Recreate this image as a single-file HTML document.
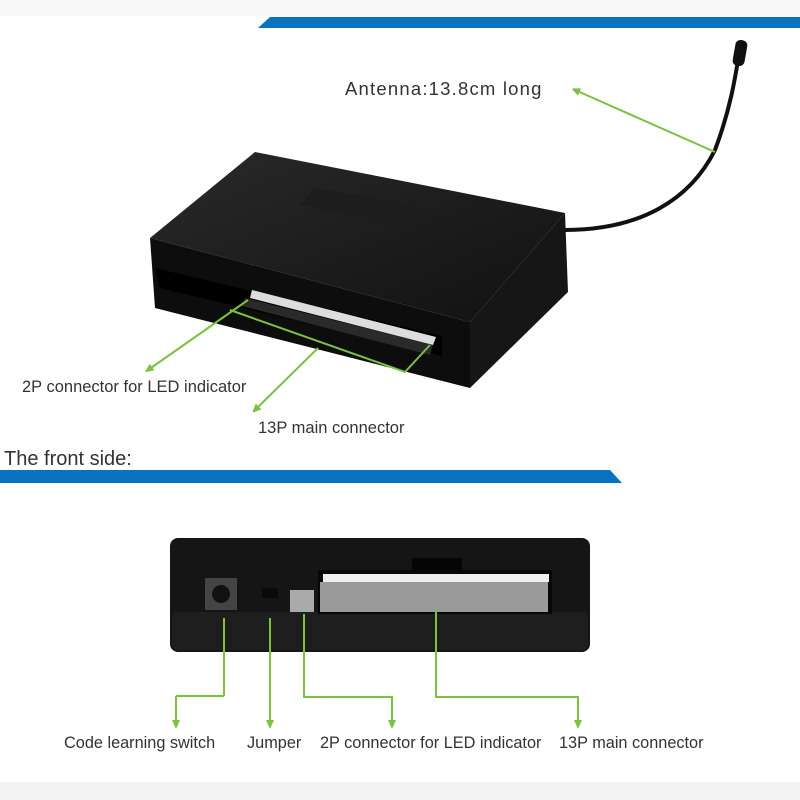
<!DOCTYPE html>
<html><head><style>
body{margin:0;background:#fff}
svg{display:block}
text{font-family:"Liberation Sans",sans-serif;fill:#333}
</style></head><body>
<svg width="800" height="800" viewBox="0 0 800 800">
<defs>
<marker id="a" markerWidth="8" markerHeight="8" refX="5" refY="4" orient="auto" markerUnits="userSpaceOnUse"><path d="M0,0 L9,4 L0,8 Z" fill="#7bc142"/></marker>
<linearGradient id="tg" x1="0" y1="0" x2="1" y2="1"><stop offset="0" stop-color="#2a2a2a"/><stop offset="1" stop-color="#111"/></linearGradient>
</defs>
<rect x="0" y="0" width="800" height="16" fill="#f8f8f8"/>
<polygon points="270,17 800,17 800,28 258,28" fill="#0a72c0"/>
<polygon points="0,470 610,470 622,483 0,483" fill="#0a72c0"/>
<rect x="0" y="782" width="800" height="18" fill="#f4f4f4"/>
<!-- antenna -->
<path d="M565,230 C640,230 690,200 715,150 C730,110 735,80 740,48" stroke="#111" stroke-width="4" fill="none"/>
<rect x="734" y="40" width="12" height="26" rx="5" fill="#111" transform="rotate(10 740 53)"/>
<!-- top box -->
<polygon points="150,238 470,322 470,388 155,308" fill="#0d0d0d"/>
<polygon points="150,238 255,152 565,213 470,322" fill="url(#tg)"/>
<polygon points="470,322 565,213 568,292 470,388" fill="#161616"/>
<polygon points="300,205 315,188 420,206 410,228" fill="#1d1d1d"/>
<polygon points="155,268 442,336 442,356 160,288" fill="#000"/>
<polygon points="252,290 436,337 433,345 250,298" fill="#ddd"/>
<polygon points="245,298 433,345 430,355 242,306" fill="#2a2a2a"/>
<!-- top labels -->
<text x="345" y="95" font-size="18.5" letter-spacing="1.2">Antenna:13.8cm long</text>
<line x1="715" y1="152" x2="575" y2="90" stroke="#7bc142" stroke-width="2" marker-end="url(#a)"/>
<polyline points="230,310 405,372 430,345" fill="none" stroke="#7bc142" stroke-width="2"/>
<line x1="248" y1="300" x2="148" y2="370" stroke="#7bc142" stroke-width="2" marker-end="url(#a)"/>
<line x1="318" y1="348" x2="255" y2="410" stroke="#7bc142" stroke-width="2" marker-end="url(#a)"/>
<text x="22" y="392" font-size="16.5">2P connector for LED indicator</text>
<text x="258" y="433" font-size="16.5">13P main connector</text>
<text x="4" y="465" font-size="20">The front side:</text>
<!-- bottom box -->
<rect x="170" y="538" width="420" height="114" rx="8" fill="#151515"/>
<rect x="172" y="612" width="416" height="38" rx="6" fill="#1e1e1e"/>
<rect x="412" y="558" width="50" height="15" fill="#050505"/>
<rect x="318" y="570" width="234" height="44" fill="#070707"/>
<rect x="323" y="574" width="226" height="8" fill="#eee"/>
<rect x="320" y="582" width="228" height="30" fill="#9a9a9a"/>
<rect x="205" y="578" width="32" height="32" fill="#444"/>
<circle cx="221" cy="594" r="9" fill="#111"/>
<rect x="262" y="588" width="16" height="10" fill="#0a0a0a"/>
<rect x="290" y="590" width="24" height="22" fill="#aaa"/>
<!-- bottom lines -->
<g stroke="#7bc142" stroke-width="2" fill="none">
<line x1="224" y1="618" x2="224" y2="696"/><line x1="224" y1="696" x2="176" y2="696"/><line x1="176" y1="696" x2="176" y2="725" marker-end="url(#a)"/>
<line x1="270" y1="618" x2="270" y2="725" marker-end="url(#a)"/>
<polyline points="304,614 304,697 392,697 392,725" marker-end="url(#a)"/>
<polyline points="436,610 436,697 578,697 578,725" marker-end="url(#a)"/>
</g>
<text x="64" y="748" font-size="16.3">Code learning switch</text>
<text x="247" y="748" font-size="16.3">Jumper</text>
<text x="320" y="748" font-size="16.3">2P connector for LED indicator</text>
<text x="559" y="748" font-size="16.3">13P main connector</text>
</svg>
</body></html>
